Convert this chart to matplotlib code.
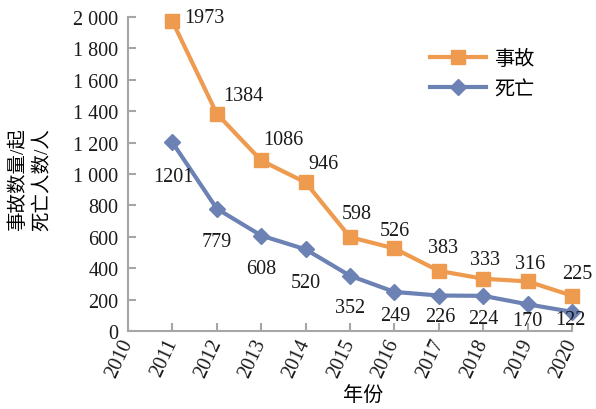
import matplotlib.pyplot as plt
from matplotlib.transforms import ScaledTranslation

# Traffic accidents and deaths per year
years = [2011, 2012, 2013, 2014, 2015, 2016, 2017, 2018, 2019, 2020]
accidents = [1973, 1384, 1086, 946, 598, 526, 383, 333, 316, 225]
deaths = [1201, 779, 608, 520, 352, 249, 226, 224, 170, 122]
tick_years = list(range(2010, 2021))
y_ticks = [0, 200, 400, 600, 800, 1000, 1200, 1400, 1600, 1800, 2000]

# label offsets in pixels (dx, dy)
acc_offsets = [(32, 4), (27, 18), (22, 21), (18, 19), (7, 24), (0, 18), (4, 23), (2, 19), (3, 18), (5, 22)]
death_offsets = [(1, -34), (0, -33), (0, -33), (0, -33), (0, -32), (1, -24), (2, -21), (0, -23), (0, -16), (-2, -8)]

plt.rcParams['font.family'] = ['Liberation Serif', 'Noto Sans CJK SC']

orange = '#EE9A4F'
blue = '#6C82B4'
grey = '#A6A6A6'
text_col = '#1a1a1a'

fig = plt.figure(figsize=(5.96, 4.10), dpi=100)
ax = fig.add_axes([128 / 596, 1 - 332 / 410, 444 / 596, 314 / 410])

ax.plot(years, accidents, color=orange, lw=3, marker='s', ms=10, label='事故', zorder=3, clip_on=False)
ax.plot(years, deaths, color=blue, lw=3, marker='D', ms=8, label='死亡', zorder=3, clip_on=False)

for x, v, off in zip(years, accidents, acc_offsets):
    ax.annotate(str(v), (x, v), xytext=off, textcoords='offset pixels',
                ha='center', va='center', fontsize=14.5, color=text_col)
for x, v, off in zip(years, deaths, death_offsets):
    ax.annotate(str(v), (x, v), xytext=off, textcoords='offset pixels',
                ha='center', va='center', fontsize=14.5, color=text_col)

ax.set_xlim(2010, 2020)
ax.set_ylim(0, 2000)
ax.set_xticks(tick_years)
ax.set_xticklabels([str(y) for y in tick_years], rotation=65, ha='right', va='center',
                   rotation_mode='anchor', fontsize=14.5)
# nudge rotated year labels a little to the right
shift = ScaledTranslation(4 / 100, 0, fig.dpi_scale_trans)
for lbl in ax.get_xticklabels():
    lbl.set_transform(lbl.get_transform() + shift)
ax.set_yticks(y_ticks)
ax.set_yticklabels([f'{v:,}'.replace(',', ' ') for v in y_ticks], fontsize=14.5)

for s in ['top', 'right']:
    ax.spines[s].set_visible(False)
for s in ['left', 'bottom']:
    ax.spines[s].set_color(grey)
    ax.spines[s].set_linewidth(1.5)
ax.tick_params(axis='both', direction='in', length=6, width=1.5, color=grey, labelcolor=text_col)
ax.tick_params(axis='y', pad=7)
ax.tick_params(axis='x', pad=6)

ax.set_ylabel('事故数量/起\n死亡人数/人', fontsize=14, linespacing=1.45, va='center')
ax.yaxis.set_label_coords(-0.221, 0.484)
ax.set_xlabel('年份', fontsize=14.5, va='center')
ax.xaxis.set_label_coords(0.53, -0.205)

ax.legend(loc='upper left', bbox_to_anchor=(0.662, 0.92), frameon=False, fontsize=14.5,
          handlelength=2.8, handletextpad=0.4, labelspacing=0.55, borderaxespad=0)

fig.savefig('out.png', dpi=100)
